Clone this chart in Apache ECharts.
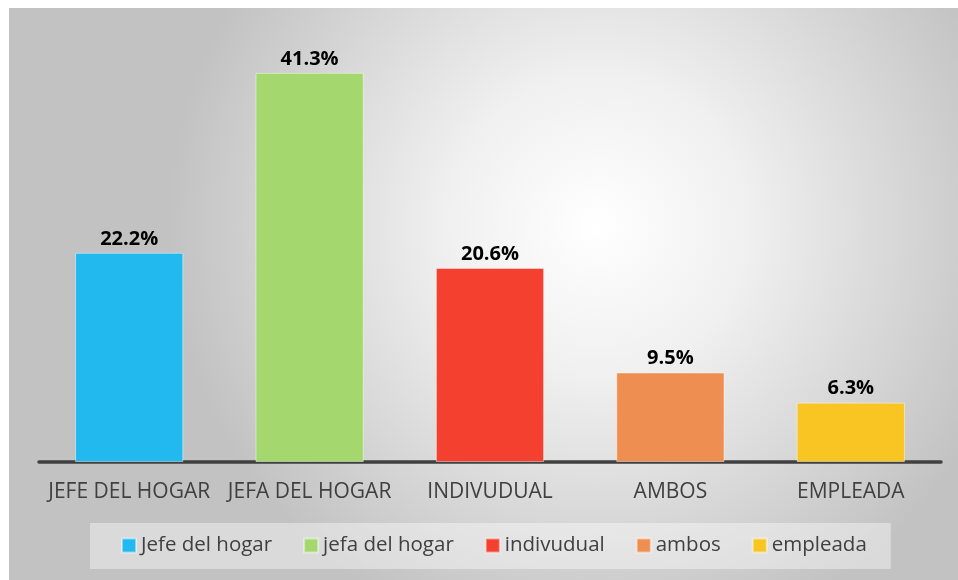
<!DOCTYPE html>
<html>
<head>
<meta charset="utf-8">
<script src="https://cdn.jsdelivr.net/npm/echarts@6/dist/echarts.min.js"></script>
<style>
html,body{margin:0;padding:0;background:#fff;}
#chart{width:958px;height:580px;}
</style>
</head>
<body>
<div id="chart"></div>
<script>
const categories = ['JEFE DEL HOGAR', 'JEFA DEL HOGAR', 'INDIVUDUAL', 'AMBOS', 'EMPLEADA'];
const seriesNames = ['Jefe del hogar', 'jefa del hogar', 'indivudual', 'ambos', 'empleada'];
const values = [22.2, 41.3, 20.6, 9.5, 6.3];
const colors = ['#22B9EF', '#A4D86E', '#F4412F', '#EE8E50', '#F9C523'];

const chart = echarts.init(document.getElementById('chart'), null, {renderer: 'canvas'});

const series = seriesNames.map((name, i) => ({
  name: name,
  type: 'bar',
  stack: 'all',
  barWidth: '60%',
  data: categories.map((c, j) => (j === i ? values[i] : '-')),
  itemStyle: {color: colors[i], borderColor: 'rgba(255,255,255,0.45)', borderWidth: 1},
  label: {
    show: true,
    position: 'top',
    distance: 4,
    color: '#000',
    fontFamily: 'Open Sans',
    fontWeight: 'bold',
    fontSize: 20,
    formatter: p => p.value.toFixed(1) + '%'
  }
}));

chart.setOption({
  backgroundColor: '#fff',
  animation: false,
  color: colors,
  graphic: [{
    type: 'rect',
    z: -10,
    silent: true,
    shape: {x: 9, y: 8, width: 949, height: 572},
    style: {
      fill: new echarts.graphic.RadialGradient(0.62, 0.38, 0.75, [
        {offset: 0, color: '#ffffff'},
        {offset: 0.35, color: '#f0f0f0'},
        {offset: 1, color: '#c2c2c2'}
      ])
    }
  }],
  grid: {left: 39, right: 17, top: 38, bottom: 118, containLabel: false},
  xAxis: {
    type: 'category',
    data: categories,
    axisTick: {show: false},
    axisLine: {lineStyle: {color: '#404040', width: 3.5}},
    axisLabel: {
      interval: 0,
      margin: 20,
      color: '#404040',
      fontFamily: 'Open Sans',
      fontSize: 21
    }
  },
  yAxis: {
    type: 'value',
    min: 0,
    max: 45,
    show: false,
    splitLine: {show: false}
  },
  legend: {
    data: seriesNames,
    left: 90,
    top: 523,
    padding: [12, 24, 13, 31],
    itemWidth: 14,
    itemHeight: 14,
    itemGap: 31,
    icon: 'rect',
    backgroundColor: 'rgba(255,255,255,0.4)',
    textStyle: {color: '#404040', fontFamily: 'Open Sans', fontSize: 20.5}
  },
  series: series
});
</script>
</body>
</html>
